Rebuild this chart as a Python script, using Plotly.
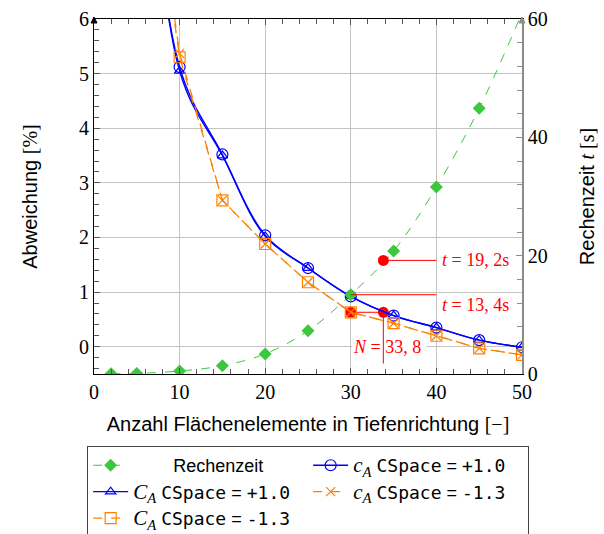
import plotly.graph_objects as go

# --- data -------------------------------------------------------------
n_time = [2, 5, 10, 15, 20, 25, 30, 35, 40, 45, 50]
t_time = [0.05, 0.1, 0.5, 1.4, 3.4, 7.3, 13.4, 20.8, 31.6, 44.9, 61.0]

n_dev = [5, 10, 15, 20, 25, 30, 35, 40, 45, 50]
ca_pos = [12.3, 5.12, 3.52, 2.04, 1.44, 0.92, 0.57, 0.35, 0.12, -0.01]
CA_pos = [13.6, 5.05, 3.50, 2.02, 1.44, 0.92, 0.57, 0.35, 0.12, -0.01]
ca_neg = [10.9, 5.37, 2.68, 1.88, 1.18, 0.63, 0.43, 0.20, -0.03, -0.15]
CA_neg = [10.8, 5.30, 2.68, 1.88, 1.18, 0.63, 0.43, 0.20, -0.03, -0.15]

# marked operating points
n_ref = 30
n_opt = 33.8
t_ref = 13.4
t_opt = 19.2
dev_ref = 0.63
n_label_end = 40
dev_line_bottom = -0.31

x_ticks = [0, 10, 20, 30, 40, 50]
y_ticks = [0, 1, 2, 3, 4, 5, 6]
y2_ticks = [0, 20, 40, 60]

# --- styles -----------------------------------------------------------
BLUE = "#0000ff"
ORANGE = "#ff8000"
GREEN = "#3cc83c"
RED = "#ff0000"
GRID = "#c4c4c4"
SERIF = "Liberation Serif"
SANS = "Liberation Sans"
MONO = "DejaVu Sans Mono"


def serif(s, size=None):
    sz = f";font-size:{size}px" if size else ""
    return f'<span style="font-family:{SERIF}{sz}">{s}</span>'


def mono(s):
    return f'<span style="font-family:{MONO}">{s}</span>'


def lbl(c, val):
    return f"{serif('<i>' + c + '</i><sub><i>A</i></sub>', 21)} {mono('CSpace')} = {mono(val)}"


fig = go.Figure()

# computation time (right axis)
fig.add_trace(go.Scatter(
    x=n_time, y=t_time, yaxis="y2", name="        Rechenzeit",
    mode="lines+markers", line=dict(color=GREEN, width=1, dash="dash", shape="spline"),
    marker=dict(symbol="diamond", size=10, color=GREEN), legendrank=1,
))

# red helper lines and points
fig.add_trace(go.Scatter(
    x=[n_opt, n_label_end], y=[t_opt, t_opt], yaxis="y2", mode="lines",
    line=dict(color=RED, width=1), showlegend=False, hoverinfo="skip"))
fig.add_trace(go.Scatter(
    x=[n_ref, n_label_end], y=[t_ref, t_ref], yaxis="y2", mode="lines",
    line=dict(color=RED, width=1), showlegend=False, hoverinfo="skip"))
fig.add_trace(go.Scatter(
    x=[n_opt], y=[t_opt], yaxis="y2", mode="markers",
    marker=dict(color=RED, size=11), showlegend=False, hoverinfo="skip"))
fig.add_trace(go.Scatter(
    x=[n_ref, n_opt], y=[dev_ref, dev_ref], mode="lines+markers",
    line=dict(color=RED, width=1), marker=dict(color=RED, size=11),
    showlegend=False, hoverinfo="skip"))
fig.add_trace(go.Scatter(
    x=[n_opt, n_opt], y=[dev_ref, dev_line_bottom], mode="lines",
    line=dict(color=RED, width=1), showlegend=False, hoverinfo="skip"))

# deviation curves (left axis)
fig.add_trace(go.Scatter(
    x=n_dev, y=ca_pos, name=lbl("c", "+1.0"), mode="lines+markers",
    line=dict(color=BLUE, width=1.4, shape="spline"),
    marker=dict(symbol="circle-open", size=11, color=BLUE, line=dict(width=1.2)),
    legendrank=2))
fig.add_trace(go.Scatter(
    x=n_dev, y=CA_pos, name=lbl("C", "+1.0"), mode="lines+markers",
    line=dict(color=BLUE, width=1.4, shape="spline"),
    marker=dict(symbol="triangle-up-open", size=9, color=BLUE, line=dict(width=1.2)),
    legendrank=3))
fig.add_trace(go.Scatter(
    x=n_dev, y=ca_neg, name=lbl("c", "-1.3"), mode="lines+markers",
    line=dict(color=ORANGE, width=1.3, dash="dash"),
    marker=dict(symbol="x-thin-open", size=9, color=ORANGE, line=dict(width=1.2, color=ORANGE)),
    legendrank=4))
fig.add_trace(go.Scatter(
    x=n_dev, y=CA_neg, name=lbl("C", "-1.3"), mode="lines+markers",
    line=dict(color=ORANGE, width=1.3, dash="dash"),
    marker=dict(symbol="square-open", size=11, color=ORANGE, line=dict(width=1.2)),
    legendrank=5))

# white patch behind the N label (between grid and traces)
fig.add_shape(type="rect", xref="x", yref="y", x0=30.2, x1=38.8, y0=-0.17, y1=0.17,
              fillcolor="white", line=dict(width=0), layer="between")

# arrow tips on top of the two vertical axes
for xp, col in [(0, "black"), (1, "#8c8c8c")]:
    fig.add_shape(type="path", xref="paper", yref="paper", xsizemode="pixel",
                  ysizemode="pixel", xanchor=xp, yanchor=1,
                  path="M-3,-4 L0,2 L3,-4 Z", fillcolor=col, line=dict(color=col, width=1),
                  layer="above")

red_font = dict(family=SERIF, size=18, color=RED)


def fmt(v):
    return str(v).replace(".", ", ")


fig.add_annotation(x=n_label_end, y=t_opt, xref="x", yref="y2", xanchor="left",
                   yanchor="middle", xshift=4, text=f"<i>t</i> = {fmt(t_opt)}s",
                   showarrow=False, font=red_font)
fig.add_annotation(x=n_label_end, y=t_ref, xref="x", yref="y2", xanchor="left",
                   yanchor="middle", xshift=4, yshift=-10, text=f"<i>t</i> = {fmt(t_ref)}s",
                   showarrow=False, font=red_font)
fig.add_annotation(x=n_opt, y=0, xref="x", yref="y", xanchor="center", yanchor="middle",
                   xshift=4, text=f"<i>N</i> = {fmt(n_opt)}",
                   showarrow=False, font=red_font)

tick_font = dict(family=SERIF, size=20, color="black")
title_font = dict(family=SANS, size=20, color="black")

fig.update_layout(
    width=604, height=534,
    margin=dict(l=94, r=82, t=19, b=160, autoexpand=False),
    paper_bgcolor="white", plot_bgcolor="white",
    font=dict(family=SANS, size=20, color="black"),
    xaxis=dict(
        range=[0, 50], tickvals=x_ticks, tickfont=tick_font,
        title=dict(text=f"Anzahl Flächenelemente in Tiefenrichtung {serif('[−]')}",
                   font=title_font, standoff=14),
        showgrid=True, gridcolor=GRID, gridwidth=1, zeroline=False,
        showline=True, linecolor="black", linewidth=1, mirror="ticks",
        ticks="inside", ticklen=6, tickcolor="#555",
        minor=dict(dtick=2, ticks="inside", ticklen=5, tickcolor="#555", showgrid=False),
    ),
    yaxis=dict(
        range=[-0.5, 6], tickvals=y_ticks, tickfont=tick_font,
        title=dict(text=f"Abweichung {serif('[%]')}", font=title_font, standoff=36),
        showgrid=True, gridcolor=GRID, gridwidth=1, zeroline=False,
        showline=True, linecolor="black", linewidth=1,
        ticks="inside", ticklen=6, tickcolor="#555",
        minor=dict(dtick=0.2, ticks="inside", ticklen=5, tickcolor="#555", showgrid=False),
    ),
    yaxis2=dict(
        range=[0, 60], tickvals=y2_ticks, tickfont=tick_font, overlaying="y", side="right",
        title=dict(text=f"Rechenzeit {serif('<i>t</i> [s]')}", font=title_font, standoff=33),
        showgrid=False, zeroline=False,
        showline=True, linecolor="#8c8c8c", linewidth=1.5,
        ticks="inside", ticklen=6, tickcolor="#8c8c8c",
        minor=dict(dtick=4, ticks="inside", ticklen=5, tickcolor="#8c8c8c"),
    ),
    legend=dict(
        orientation="h", x=-0.016, xanchor="left", y=-0.203, yanchor="top",
        bgcolor="white", bordercolor="#444", borderwidth=1,
        font=dict(family=SANS, size=18, color="black"),
        itemwidth=35, entrywidth=170, tracegroupgap=0,
    ),
)

fig.write_html("out.html")
